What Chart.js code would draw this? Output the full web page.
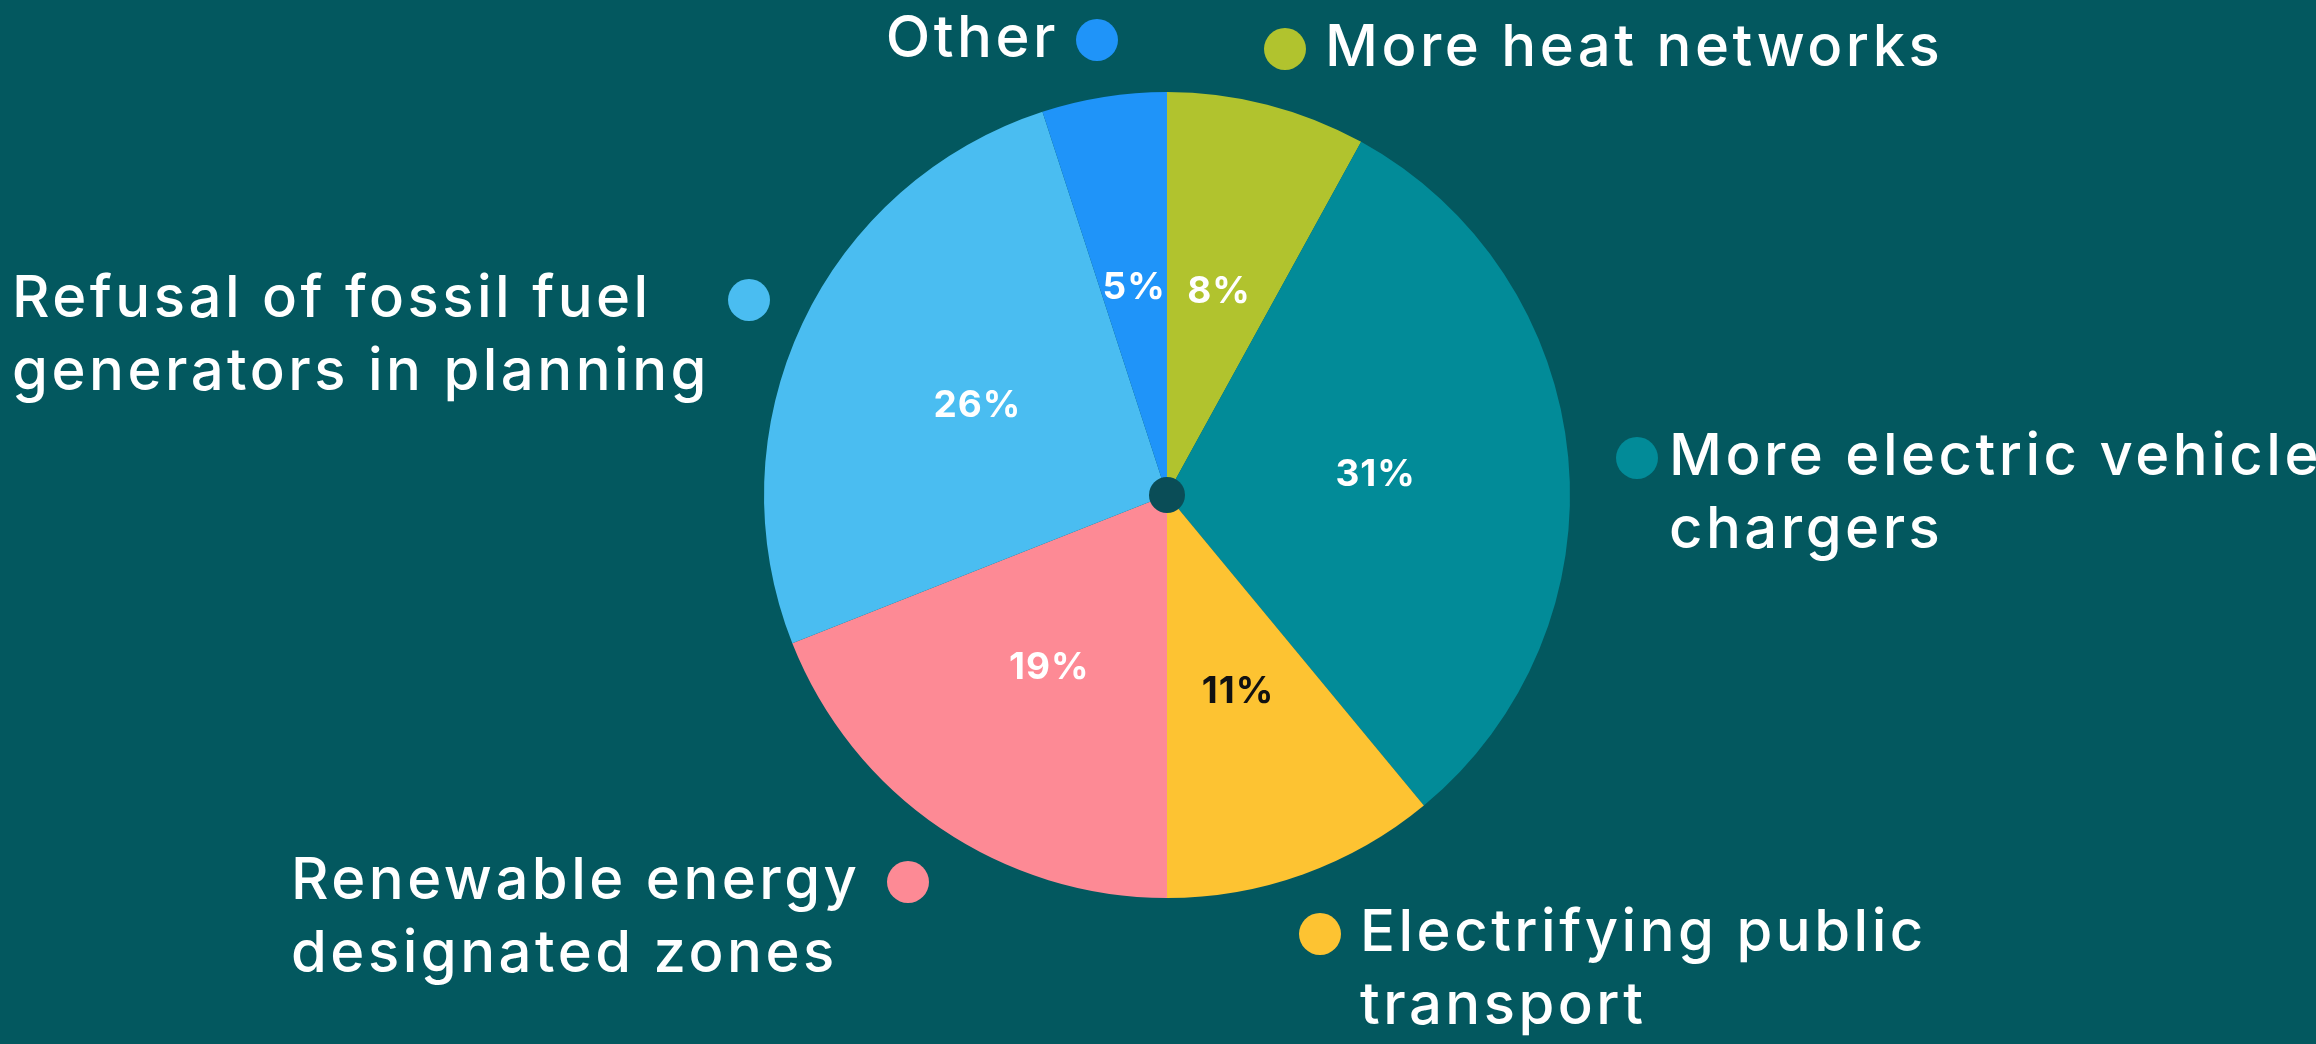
<!DOCTYPE html>
<html>
<head>
<meta charset="utf-8">
<script src="https://cdn.jsdelivr.net/npm/chart.js@4.4.0/dist/chart.umd.min.js"></script>
<style>
  html, body { margin: 0; padding: 0; background: #03585f; }
  #wrap { width: 2316px; height: 1044px; }
</style>
</head>
<body>
<div id="wrap"><canvas id="pieChart" width="2316" height="1044"></canvas></div>
<script>
// data (clockwise from 12 o'clock)
const categories = [
    ['More heat networks'],
    ['More electric vehicle', 'chargers'],
    ['Electrifying public', 'transport'],
    ['Renewable energy', 'designated zones'],
    ['Refusal of fossil fuel', 'generators in planning'],
    ['Other']
];
const shares = [8, 31, 11, 19, 26, 5];
const sliceColors = ['#b1c32e', '#028b98', '#fdc332', '#fd8a95', '#4abdf1', '#1f94f9'];
const pctColors = ['#ffffff', '#ffffff', '#111111', '#ffffff', '#ffffff', '#ffffff'];

// where each callout sits, relative to the pie centre
const callouts = [
    { dot: [118, -446], textX: 158, align: 'left' },
    { dot: [470, -37], textX: 502, align: 'left' },
    { dot: [153, 439], textX: 193, align: 'left' },
    { dot: [-259, 387], textX: -876, align: 'left' },
    { dot: [-418, -195], textX: -1155, align: 'left' },
    { dot: [-70, -455], textX: -108, align: 'right' }
];

const FONT = 'Inter, "Open Sans", sans-serif';

const sliceLabels = {
    id: 'sliceLabels',
    afterDatasetsDraw(chart) {
        const ctx = chart.ctx;
        const meta = chart.getDatasetMeta(0);
        let cx = 0, cy = 0;
        ctx.save();
        meta.data.forEach((arc, i) => {
            const p = arc.getProps(['x', 'y', 'startAngle', 'endAngle', 'outerRadius'], true);
            cx = p.x; cy = p.y;
            const mid = (p.startAngle + p.endAngle) / 2;
            const r = p.outerRadius * 0.52;
            ctx.font = 'bold 37px ' + FONT;
            ctx.letterSpacing = '1px';
            ctx.fillStyle = pctColors[i];
            ctx.textAlign = 'center';
            ctx.textBaseline = 'middle';
            ctx.fillText(shares[i] + '%', p.x + Math.cos(mid) * r, p.y + Math.sin(mid) * r);
        });

        // centre dot
        ctx.beginPath();
        ctx.arc(cx, cy, 18, 0, Math.PI * 2);
        ctx.fillStyle = '#0a4d57';
        ctx.fill();

        // callouts
        callouts.forEach((c, i) => {
            ctx.beginPath();
            ctx.arc(cx + c.dot[0], cy + c.dot[1], 21, 0, Math.PI * 2);
            ctx.fillStyle = sliceColors[i];
            ctx.fill();
            ctx.font = '500 58px ' + FONT;
            ctx.letterSpacing = '3.5px';
            ctx.fillStyle = '#ffffff';
            ctx.textAlign = c.align;
            ctx.textBaseline = 'middle';
            categories[i].forEach((line, k) => {
                ctx.fillText(line, cx + c.textX, cy + c.dot[1] + k * 73);
            });
        });
        ctx.restore();
    }
};

new Chart(document.getElementById('pieChart').getContext('2d'), {
    type: 'pie',
    data: {
        labels: categories.map(c => c.join(' ')),
        datasets: [{
            data: shares,
            backgroundColor: sliceColors,
            borderWidth: 0
        }]
    },
    options: {
        responsive: false,
        animation: false,
        layout: { padding: { left: 764, right: 746, top: 92, bottom: 146 } },
        plugins: {
            legend: { display: false },
            tooltip: { enabled: false }
        }
    },
    plugins: [sliceLabels]
});
</script>
</body>
</html>
